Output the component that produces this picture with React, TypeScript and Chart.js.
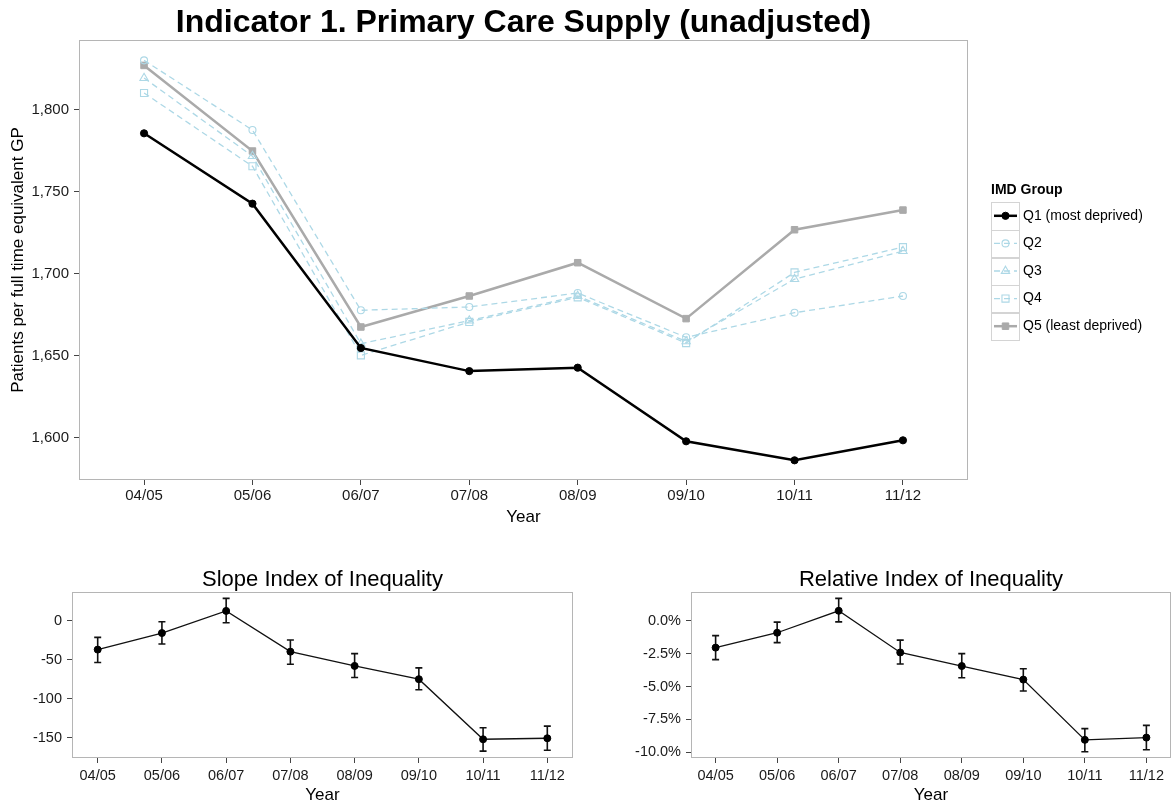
import React, { useEffect, useRef } from 'react';
import { Chart, registerables } from 'chart.js';

Chart.register(...registerables);

const FONT = "'Liberation Sans', Arial, Helvetica, sans-serif";

// ---------- data ----------
const YEARS = ['04/05', '05/06', '06/07', '07/08', '08/09', '09/10', '10/11', '11/12'];

const Q1 = [1785.4, 1742.5, 1654.5, 1640.4, 1642.5, 1597.6, 1586.0, 1598.2];
const Q2 = [1829.9, 1787.4, 1677.5, 1679.5, 1688.0, 1661.0, 1676.0, 1686.2];
const Q3 = [1819.1, 1771.5, 1657.1, 1671.2, 1686.2, 1658.5, 1696.5, 1713.6];
const Q4 = [1810.0, 1765.3, 1650.0, 1670.4, 1685.4, 1657.5, 1700.6, 1716.0];
const Q5 = [1826.8, 1774.6, 1667.3, 1686.2, 1706.5, 1672.4, 1726.6, 1738.6];
const MAIN_Y_TICKS = [1600, 1650, 1700, 1750, 1800];

const SII = [-36.9, -15.7, 12.7, -39.5, -57.8, -74.8, -151.8, -150.5];
const SII_LO = [-53.4, -29.7, -2.5, -55.7, -72.7, -88.4, -167.0, -165.8];
const SII_HI = [-21.2, -1.3, 28.8, -24.6, -42.0, -60.3, -137.0, -134.9];
const SII_TICKS = [0, -50, -100, -150];

const RII = [-2.04, -0.91, 0.76, -2.41, -3.44, -4.47, -9.05, -8.88];
const RII_LO = [-2.95, -1.66, -0.08, -3.29, -4.33, -5.34, -9.95, -9.8];
const RII_HI = [-1.13, -0.1, 1.7, -1.47, -2.5, -3.65, -8.2, -7.95];
const RII_TICKS = [0, -2.5, -5, -7.5, -10];

const toPts = (arr: number[]) => arr.map((v, i) => ({ x: i, y: v }));

// ---------- helpers ----------
function drawMarker(
  ctx: CanvasRenderingContext2D,
  style: string,
  x: number,
  y: number,
  r: number,
  fill: string,
  stroke: string,
  lw: number
) {
  ctx.beginPath();
  if (style === 'circle') {
    ctx.arc(x, y, r, 0, Math.PI * 2);
  } else if (style === 'triangle') {
    let a = 0;
    ctx.moveTo(x + Math.sin(a) * r, y - Math.cos(a) * r);
    a += (2 * Math.PI) / 3;
    ctx.lineTo(x + Math.sin(a) * r, y - Math.cos(a) * r);
    a += (2 * Math.PI) / 3;
    ctx.lineTo(x + Math.sin(a) * r, y - Math.cos(a) * r);
    ctx.closePath();
  } else {
    const s = Math.SQRT1_2 * r;
    ctx.rect(x - s, y - s, 2 * s, 2 * s);
  }
  ctx.setLineDash([]);
  if (fill && fill !== 'transparent') {
    ctx.fillStyle = fill;
    ctx.fill();
  }
  ctx.strokeStyle = stroke;
  ctx.lineWidth = lw;
  ctx.stroke();
}

const panelBorder = {
  id: 'panelBorder',
  beforeDatasetsDraw(chart: any) {
    const { ctx, chartArea: a } = chart;
    ctx.save();
    ctx.strokeStyle = '#b5b5b5';
    ctx.lineWidth = 1;
    ctx.setLineDash([]);
    ctx.strokeRect(Math.round(a.left) + 0.5, Math.round(a.top) + 0.5, Math.round(a.right - a.left) - 1, Math.round(a.bottom - a.top) - 1);
    ctx.restore();
  },
};

const errorBars = {
  id: 'errorBars',
  beforeDatasetsDraw(chart: any, _args: any, opts: any) {
    if (!opts || !opts.lo) return;
    const { ctx } = chart;
    const xs = chart.scales.x;
    const ys = chart.scales.y;
    ctx.save();
    ctx.strokeStyle = '#111';
    ctx.lineWidth = 1.6;
    ctx.setLineDash([]);
    const hw = 3.5;
    opts.lo.forEach((lo: number, i: number) => {
      const hi = opts.hi[i];
      const x = xs.getPixelForValue(i);
      const y1 = ys.getPixelForValue(lo);
      const y2 = ys.getPixelForValue(hi);
      ctx.beginPath();
      ctx.moveTo(x, y1);
      ctx.lineTo(x, y2);
      ctx.moveTo(x - hw, y1);
      ctx.lineTo(x + hw, y1);
      ctx.moveTo(x - hw, y2);
      ctx.lineTo(x + hw, y2);
      ctx.stroke();
    });
    ctx.restore();
  },
};

const ggLegend = {
  id: 'ggLegend',
  afterDraw(chart: any, _args: any, opts: any) {
    if (!opts || !opts.show) return;
    const { ctx } = chart;
    ctx.save();
    ctx.textBaseline = 'middle';
    ctx.textAlign = 'left';
    ctx.fillStyle = '#000';
    ctx.font = `bold 14px ${FONT}`;
    ctx.fillText(opts.title, opts.x, opts.titleY);
    ctx.font = `14px ${FONT}`;
    chart.data.datasets.forEach((d: any, i: number) => {
      const top = opts.y + i * opts.h;
      ctx.setLineDash([]);
      ctx.strokeStyle = '#d4d4d4';
      ctx.lineWidth = 1;
      ctx.strokeRect(opts.x + 0.5, Math.round(top) + 0.5, opts.w, Math.round(opts.h));
      const cy = top + opts.h / 2;
      ctx.strokeStyle = d.borderColor;
      ctx.lineWidth = d.borderWidth;
      ctx.setLineDash(d.borderDash || []);
      ctx.beginPath();
      ctx.moveTo(opts.x + 3, cy);
      ctx.lineTo(opts.x + opts.w - 2, cy);
      ctx.stroke();
      drawMarker(
        ctx,
        d.pointStyle,
        opts.x + opts.w / 2 + 0.5,
        cy,
        d.pointRadius,
        d.pointBackgroundColor,
        d.pointBorderColor,
        d.pointBorderWidth
      );
      ctx.fillStyle = '#000';
      ctx.fillText(d.label, opts.x + opts.w + 4, cy);
    });
    ctx.restore();
  },
};

function axisX(min: number, max: number, height: number, fontSize: number, pad: number, titlePad: number) {
  return {
    type: 'linear',
    bounds: 'data',
    min,
    max,
    afterBuildTicks: (s: any) => {
      s.ticks = YEARS.map((_, i) => ({ value: i }));
    },
    afterFit: (s: any) => {
      s.height = height;
    },
    ticks: {
      callback: (v: any) => YEARS[Math.round(Number(v))],
      font: { family: FONT, size: fontSize },
      color: '#1a1a1a',
      padding: pad,
      maxRotation: 0,
      autoSkip: false,
    },
    grid: { drawOnChartArea: false, drawTicks: true, tickLength: 5, tickColor: '#444', lineWidth: 1 },
    border: { display: false },
    title: {
      display: true,
      text: 'Year',
      color: '#000',
      font: { family: FONT, size: 17, lineHeight: 1.2 },
      padding: { top: 0, bottom: titlePad },
    },
  };
}

function axisY(min: number, max: number, ticks: number[], width: number, fontSize: number, fmt: (v: number) => string, title?: string) {
  return {
    type: 'linear',
    bounds: 'data',
    min,
    max,
    afterBuildTicks: (s: any) => {
      s.ticks = ticks.map((v) => ({ value: v }));
    },
    afterFit: (s: any) => {
      s.width = width;
    },
    ticks: {
      callback: (v: any) => fmt(Number(v)),
      font: { family: FONT, size: fontSize },
      color: '#1a1a1a',
      padding: 5,
      autoSkip: false,
    },
    grid: { drawOnChartArea: false, drawTicks: true, tickLength: 5, tickColor: '#444', lineWidth: 1 },
    border: { display: false },
    title: title
      ? {
          display: true,
          text: title,
          color: '#000',
          font: { family: FONT, size: 17, lineHeight: 1.2 },
          padding: { top: 8.3, bottom: 0 },
        }
      : { display: false },
  };
}

function mainConfig(): any {
  const blue = '#add8e6';
  return {
    type: 'line',
    data: {
      datasets: [
        {
          label: 'Q1 (most deprived)',
          data: toPts(Q1),
          borderColor: '#000000',
          borderWidth: 2.5,
          pointStyle: 'circle',
          pointRadius: 3.6,
          pointBackgroundColor: '#000000',
          pointBorderColor: '#000000',
          pointBorderWidth: 1,
        },
        {
          label: 'Q2',
          data: toPts(Q2),
          borderColor: blue,
          borderWidth: 1.3,
          borderDash: [6, 4],
          pointStyle: 'circle',
          pointRadius: 3.5,
          pointBackgroundColor: 'transparent',
          pointBorderColor: blue,
          pointBorderWidth: 1.1,
        },
        {
          label: 'Q3',
          data: toPts(Q3),
          borderColor: blue,
          borderWidth: 1.3,
          borderDash: [6, 4],
          pointStyle: 'triangle',
          pointRadius: 4.8,
          pointBackgroundColor: 'transparent',
          pointBorderColor: blue,
          pointBorderWidth: 1.1,
        },
        {
          label: 'Q4',
          data: toPts(Q4),
          borderColor: blue,
          borderWidth: 1.3,
          borderDash: [6, 4],
          pointStyle: 'rect',
          pointRadius: 5,
          pointBackgroundColor: 'transparent',
          pointBorderColor: blue,
          pointBorderWidth: 1.1,
        },
        {
          label: 'Q5 (least deprived)',
          data: toPts(Q5),
          borderColor: '#aaaaaa',
          borderWidth: 2.5,
          pointStyle: 'rect',
          pointRadius: 4.6,
          pointBackgroundColor: '#aaaaaa',
          pointBorderColor: '#aaaaaa',
          pointBorderWidth: 1,
        },
      ],
    },
    options: {
      animation: false,
      responsive: false,
      devicePixelRatio: 1,
      layout: { padding: { left: 0, right: 208, top: 0, bottom: 0 } },
      elements: { line: { tension: 0 } },
      scales: {
        x: axisX(-0.6, 7.6, 50, 15, 2, 2.8),
        y: axisY(1574, 1842.3, MAIN_Y_TICKS, 79, 15, (v) => v.toLocaleString('en-US'), 'Patients per full time equivalent GP'),
      },
      plugins: {
        legend: { display: false },
        tooltip: { enabled: false },
        title: {
          display: true,
          text: 'Indicator 1. Primary Care Supply (unadjusted)',
          color: '#000',
          fullSize: false,
          font: { family: FONT, size: 32, weight: 'bold', lineHeight: 1 },
          padding: { top: 7.5, bottom: 0.5 },
        },
        ggLegend: { show: true, title: 'IMD Group', x: 991, titleY: 190.5, y: 202, h: 27.6, w: 28 },
      },
    },
    plugins: [panelBorder, ggLegend],
  };
}

function indexConfig(
  title: string,
  vals: number[],
  lo: number[],
  hi: number[],
  yMin: number,
  yMax: number,
  ticks: number[],
  yWidth: number,
  padRight: number,
  fmt: (v: number) => string
): any {
  return {
    type: 'line',
    data: {
      datasets: [
        {
          label: title,
          data: toPts(vals),
          borderColor: '#111',
          borderWidth: 1.3,
          pointStyle: 'circle',
          pointRadius: 3.5,
          pointBackgroundColor: '#000',
          pointBorderColor: '#000',
          pointBorderWidth: 1,
        },
      ],
    },
    options: {
      animation: false,
      responsive: false,
      devicePixelRatio: 1,
      layout: { padding: { left: 0, right: padRight, top: 0, bottom: 0 } },
      elements: { line: { tension: 0 } },
      scales: {
        x: axisX(-0.4, 7.4, 49, 14.5, 4.6, 1.8),
        y: axisY(yMin, yMax, ticks, yWidth, 14.5, fmt),
      },
      plugins: {
        legend: { display: false },
        tooltip: { enabled: false },
        title: {
          display: true,
          text: title,
          color: '#000',
          fullSize: false,
          font: { family: FONT, size: 22, weight: 'normal', lineHeight: 1 },
          padding: { top: 19, bottom: 0.7 },
        },
        errorBars: { lo, hi },
      },
    },
    plugins: [panelBorder, errorBars],
  };
}

function ChartBox({ make, left, top, width, height }: { make: () => any; left: number; top: number; width: number; height: number }) {
  const ref = useRef<HTMLCanvasElement>(null);
  useEffect(() => {
    const chart = new Chart(ref.current as HTMLCanvasElement, make());
    return () => chart.destroy();
  }, []);
  return (
    <canvas
      ref={ref}
      width={width}
      height={height}
      style={{ position: 'absolute', left, top, width, height, display: 'block' }}
    />
  );
}

export default function App() {
  return (
    <div style={{ position: 'absolute', left: 0, top: 0, width: 1176, height: 807, background: '#ffffff', overflow: 'hidden' }}>
      <ChartBox make={mainConfig} left={0} top={0} width={1176} height={530} />
      <ChartBox
        make={() =>
          indexConfig('Slope Index of Inequality', SII, SII_LO, SII_HI, -175.8, 37.3, SII_TICKS, 72, 15, (v) => String(v))
        }
        left={0}
        top={550}
        width={588}
        height={257}
      />
      <ChartBox
        make={() =>
          indexConfig('Relative Index of Inequality', RII, RII_LO, RII_HI, -10.43, 2.21, RII_TICKS, 103, 1.7, (v) => v.toFixed(1) + '%')
        }
        left={588}
        top={550}
        width={588}
        height={257}
      />
    </div>
  );
}
